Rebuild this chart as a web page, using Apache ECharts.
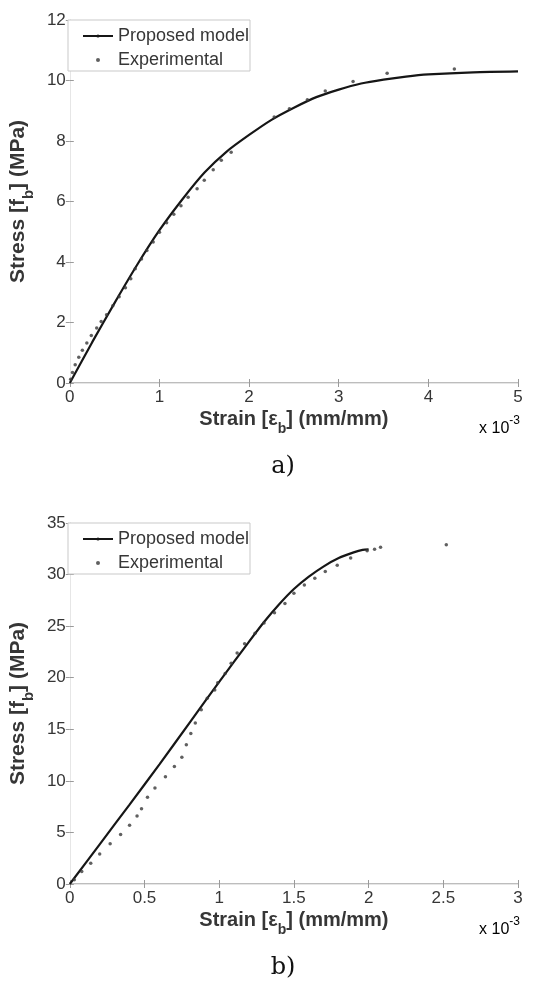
<!DOCTYPE html>
<html>
<head>
<meta charset="utf-8">
<title>Stress–strain curves</title>
<script src="https://cdn.jsdelivr.net/npm/echarts@6/dist/echarts.min.js"></script>
<style>
  html, body { margin: 0; padding: 0; background: #fff; }
  #chart { width: 543px; height: 984px; }
</style>
</head>
<body>
<div id="chart"></div>
<script>
// Strain values are given in units of 1e-3 mm/mm (axis shows "x 10^-3").

// a) — proposed model curve
const modelA = [
  [0, 0], [0.25, 1.35], [0.5, 2.65], [0.75, 3.9], [1.0, 5.05], [1.25, 6.05],
  [1.5, 6.95], [1.75, 7.65], [2.0, 8.2], [2.25, 8.7], [2.5, 9.1], [2.75, 9.45],
  [3.0, 9.7], [3.25, 9.9], [3.5, 10.03], [3.75, 10.13], [4.0, 10.2], [4.5, 10.27],
  [5.0, 10.3]
];
// a) — experimental readings
const expA = [
  [0.01, 0.12], [0.03, 0.35], [0.06, 0.6], [0.10, 0.85], [0.14, 1.08], [0.19, 1.32],
  [0.24, 1.57], [0.30, 1.82], [0.35, 2.03], [0.41, 2.26], [0.48, 2.55], [0.55, 2.85],
  [0.62, 3.15], [0.68, 3.45], [0.73, 3.78], [0.80, 4.1], [0.86, 4.38], [0.93, 4.66],
  [1.0, 4.98], [1.08, 5.3], [1.16, 5.58], [1.24, 5.86], [1.32, 6.14], [1.42, 6.42],
  [1.50, 6.7], [1.60, 7.05], [1.69, 7.36], [1.80, 7.63], [2.28, 8.79], [2.45, 9.07],
  [2.65, 9.36], [2.85, 9.65], [3.16, 9.97], [3.54, 10.24], [4.29, 10.38]
];

// b) — proposed model curve
const modelB = [
  [0, 0], [0.2, 3.85], [0.4, 7.7], [0.6, 11.6], [0.8, 15.6], [1.0, 19.6],
  [1.2, 23.5], [1.3, 25.4], [1.4, 27.1], [1.5, 28.6], [1.6, 29.8], [1.7, 30.8],
  [1.8, 31.6], [1.9, 32.15], [1.96, 32.4], [2.0, 32.45]
];
// b) — experimental readings
const expB = [
  [0.03, 0.4], [0.08, 1.2], [0.14, 2.0], [0.20, 2.9], [0.27, 3.9], [0.34, 4.8],
  [0.40, 5.7], [0.45, 6.6], [0.48, 7.3], [0.52, 8.4], [0.57, 9.3], [0.64, 10.4],
  [0.70, 11.4], [0.75, 12.3], [0.78, 13.5], [0.81, 14.6], [0.84, 15.6], [0.88, 16.9],
  [0.92, 18.0], [0.97, 18.8], [0.99, 19.5], [1.04, 20.4], [1.08, 21.4], [1.12, 22.4],
  [1.17, 23.3], [1.24, 24.3], [1.30, 25.3], [1.37, 26.3], [1.44, 27.2], [1.50, 28.2],
  [1.57, 29.0], [1.64, 29.65], [1.71, 30.3], [1.79, 30.9], [1.88, 31.6], [1.99, 32.3],
  [2.04, 32.45], [2.08, 32.65], [2.52, 32.9]
];

// Axis ranges
const xRangeA = { max: 5, interval: 1 };
const yRangeA = { max: 12, interval: 2 };
const xRangeB = { max: 3, interval: 0.5 };
const yRangeB = { max: 35, interval: 5 };

const seriesNames = ['Proposed model', 'Experimental'];
const panelLabels = ['a)', 'b)'];

const FONT = 'Liberation Sans, Arial, sans-serif';
const TXT = '#363636';

// panel frames
const panels = [
  { left: 68, top: 20, width: 450, height: 363 },
  { left: 68, top: 523, width: 450, height: 361 }
];

const xName = '{t|Strain [ε}{s|b}{t|] (mm/mm)}';
const yName = '{t|Stress [f}{s|b}{t|] (MPa)}';
// main text sits at the top of the line, the subscript is pushed to its bottom
function nameRich(size) {
  return {
    t: { fontSize: size, fontWeight: 'bold', fontFamily: FONT, color: TXT, lineHeight: size + 2, verticalAlign: 'top' },
    s: { fontSize: Math.round(size * 0.7), fontWeight: 'bold', fontFamily: FONT, color: TXT, lineHeight: size + 7, verticalAlign: 'bottom' }
  };
}

const tickStyle = { inside: true, length: 4, lineStyle: { color: '#9a9a9a', width: 1 } };
const labelStyle = { fontSize: 17, fontFamily: FONT, color: TXT };

function xAxes(grid, range) {
  return [
    {
      type: 'value', gridIndex: grid, position: 'bottom', min: 0, max: range.max, interval: range.interval,
      axisLine: { lineStyle: { color: '#a8a8a8', width: 1.6 } },
      axisTick: tickStyle,
      axisLabel: Object.assign({ margin: 6 }, labelStyle),
      splitLine: { show: false },
      name: xName, nameLocation: 'middle', nameGap: 26,
      nameTextStyle: { rich: nameRich(20) }
    },
    {
      type: 'value', gridIndex: grid, position: 'top', min: 0, max: range.max, interval: range.interval,
      axisLine: { lineStyle: { color: '#e6e6e6', width: 1 } },
      axisTick: tickStyle, axisLabel: { show: false }, splitLine: { show: false }
    }
  ];
}
function yAxes(grid, range) {
  return [
    {
      type: 'value', gridIndex: grid, position: 'left', min: 0, max: range.max, interval: range.interval,
      axisLine: { show: true, lineStyle: { color: '#e2e2e2', width: 1 } },
      axisTick: Object.assign({ show: true }, tickStyle),
      axisLabel: Object.assign({ margin: 4 }, labelStyle),
      splitLine: { show: false },
      name: yName, nameLocation: 'middle', nameGap: 28,
      nameTextStyle: { rich: nameRich(21) }
    },
    {
      type: 'value', gridIndex: grid, position: 'right', min: 0, max: range.max, interval: range.interval,
      axisLine: { show: true, lineStyle: { color: '#e6e6e6', width: 1 } },
      axisTick: Object.assign({ show: true }, tickStyle),
      axisLabel: { show: false }, splitLine: { show: false }
    }
  ];
}

function modelSeries(axisIdx, data) {
  return {
    name: seriesNames[0], type: 'line', xAxisIndex: axisIdx, yAxisIndex: axisIdx,
    data: data, symbol: 'none', smooth: 0.25, z: 3,
    lineStyle: { color: '#161616', width: 2.2 }, itemStyle: { color: '#161616' }
  };
}
function expSeries(axisIdx, data) {
  return {
    name: seriesNames[1], type: 'scatter', xAxisIndex: axisIdx, yAxisIndex: axisIdx,
    data: data, symbol: 'circle', symbolSize: 3.5, z: 4,
    itemStyle: { color: '#383838' }
  };
}

function legendFor(p) {
  return {
    orient: 'vertical', left: p.left + 9, top: p.top + 1, padding: 5,
    itemWidth: 30, itemHeight: 4, itemGap: 4,
    data: seriesNames,
    textStyle: { fontSize: 18, fontFamily: FONT, color: TXT, lineHeight: 20 },
    selectedMode: false, z: 6
  };
}

const graphics = [];
panels.forEach(function (p, i) {
  // legend frame
  graphics.push({
    type: 'rect', z: 5,
    shape: { x: p.left, y: p.top, width: 182, height: 51 },
    style: { fill: '#fff', stroke: '#c9c9c9', lineWidth: 1 }
  });
  // axis exponent
  graphics.push({
    type: 'text', z: 6, x: p.left + p.width + 2, y: p.top + p.height + 43,
    style: {
      text: '{n|x 10}{e|-3}', align: 'right', verticalAlign: 'middle',
      rich: {
        n: { fontSize: 16, fontFamily: FONT, color: TXT, lineHeight: 22, verticalAlign: 'bottom' },
        e: { fontSize: 12, fontFamily: FONT, color: TXT, lineHeight: 12, verticalAlign: 'top' }
      }
    }
  });
  // panel caption
  graphics.push({
    type: 'text', z: 6, x: 283, y: p.top + p.height + 84,
    style: {
      text: panelLabels[i], align: 'center', verticalAlign: 'middle',
      fontSize: 24, fontFamily: 'DejaVu Serif, serif', fill: '#111'
    }
  });
});

const chart = echarts.init(document.getElementById('chart'), null, { renderer: 'canvas' });
chart.setOption({
  backgroundColor: '#fff',
  animation: false,
  grid: panels.map(function (p) { return Object.assign({ containLabel: false }, p); }),
  xAxis: xAxes(0, xRangeA).concat(xAxes(1, xRangeB)),
  yAxis: yAxes(0, yRangeA).concat(yAxes(1, yRangeB)),
  legend: panels.map(legendFor),
  series: [
    modelSeries(0, modelA), expSeries(0, expA),
    modelSeries(2, modelB), expSeries(2, expB)
  ],
  graphic: graphics
});
</script>
</body>
</html>
